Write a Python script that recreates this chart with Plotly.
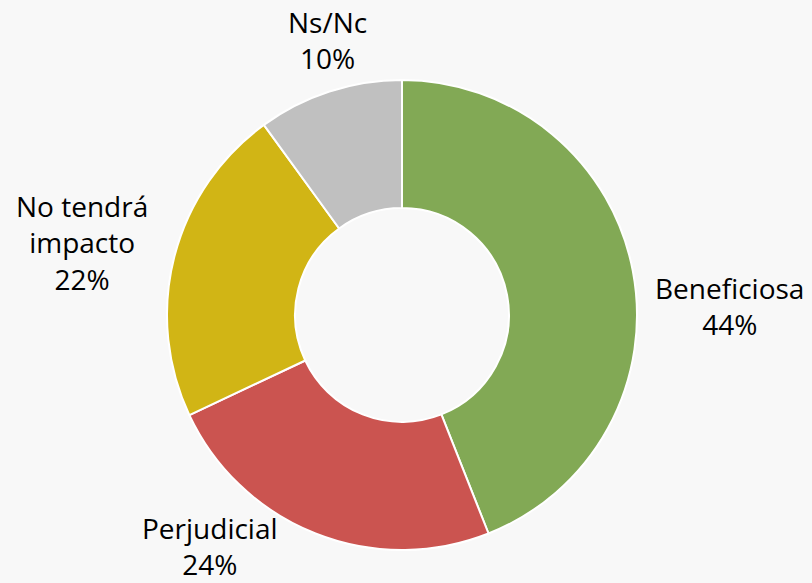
import plotly.graph_objects as go

labels = ["Beneficiosa", "Perjudicial", "No tendrá impacto", "Ns/Nc"]
values = [44, 24, 22, 10]
colors = ["#82a955", "#cb5450", "#d1b515", "#c0c0c0"]
label_text = ["Beneficiosa", "Perjudicial", "No tendrá<br>impacto", "Ns/Nc"]
# label anchor positions (paper fractions)
label_pos = [(729 / 812, 1 - 306 / 583), (210 / 812, 1 - 546 / 583),
             (82 / 812, 1 - 242 / 583), (327 / 812, 1 - 40 / 583)]

W, H = 812, 583
cx, cy, r = 402, 315, 235

fig = go.Figure(go.Pie(
    labels=labels, values=values, sort=False, direction="clockwise",
    rotation=0, hole=0.455,
    marker=dict(colors=colors, line=dict(color="white", width=2)),
    textinfo="none", hoverinfo="label+percent", showlegend=False,
    domain=dict(x=[(cx - r) / W, (cx + r) / W], y=[1 - (cy + r) / H, 1 - (cy - r) / H]),
))

total = sum(values)
for t, v, (x, y) in zip(label_text, values, label_pos):
    fig.add_annotation(
        x=x, y=y, xref="paper", yref="paper", showarrow=False,
        text=f"{t}<br>{round(v / total * 100)}%", align="center",
        font=dict(family="Open Sans", size=28, color="#000000"),
        xanchor="center", yanchor="middle",
    )

fig.update_layout(
    width=W, height=H, margin=dict(l=0, r=0, t=0, b=0),
    paper_bgcolor="#f8f8f8", plot_bgcolor="#f8f8f8",
)
fig.write_html("out.html", config={"displayModeBar": False},
               post_script="document.body.style.margin='0';document.body.style.background='#f8f8f8';")
